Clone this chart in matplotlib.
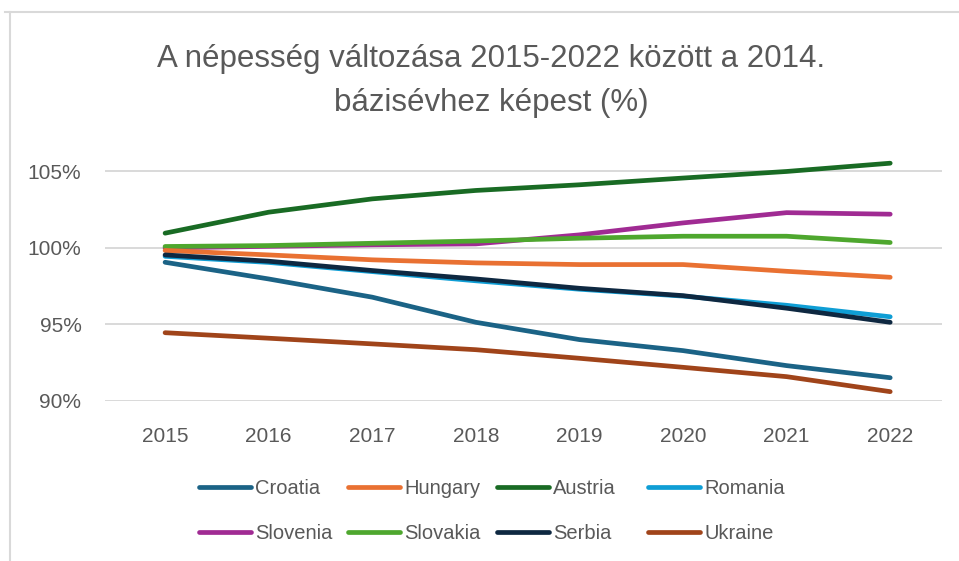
import matplotlib
matplotlib.use("Agg")
import matplotlib.pyplot as plt
from matplotlib.lines import Line2D
from matplotlib.ticker import FuncFormatter

years = [2015, 2016, 2017, 2018, 2019, 2020, 2021, 2022]
croatia  = [99.06, 97.97, 96.78, 95.14, 94.01, 93.29, 92.31, 91.52]
hungary  = [99.83, 99.54, 99.22, 99.02, 98.91, 98.91, 98.47, 98.08]
austria  = [100.96, 102.33, 103.20, 103.75, 104.12, 104.56, 104.99, 105.53]
romania  = [99.45, 99.05, 98.45, 97.85, 97.30, 96.85, 96.25, 95.50]
slovenia = [100.00, 100.10, 100.20, 100.26, 100.85, 101.63, 102.30, 102.20]
slovakia = [100.09, 100.15, 100.30, 100.45, 100.63, 100.76, 100.76, 100.35]
serbia   = [99.54, 99.13, 98.52, 97.97, 97.36, 96.88, 96.06, 95.14]
ukraine  = [94.46, 94.10, 93.73, 93.35, 92.79, 92.20, 91.59, 90.61]

names = ["Croatia", "Hungary", "Austria", "Romania", "Slovenia", "Slovakia", "Serbia", "Ukraine"]
series = [croatia, hungary, austria, romania, slovenia, slovakia, serbia, ukraine]
colors = ["#1B6386", "#E97132", "#196B24", "#0F9ED5", "#A02B93", "#4EA72E", "#0E2841", "#A0441A"]
yticks = [90, 95, 100, 105]

title = "A népesség változása 2015-2022 között a 2014.\nbázisévhez képest (%)"

W, H = 959, 561
fig = plt.figure(figsize=(W / 100, H / 100), dpi=100)
fig.patch.set_facecolor("white")

ax = fig.add_axes([105 / W, 1 - 401 / H, (942 - 105) / W, (401 - 156) / H])
ax.set_facecolor("white")

order = [2, 4, 5, 1, 3, 6, 0, 7]
for k, i in enumerate(order):
    ax.plot(years, series[i], color=colors[i], lw=3.4, solid_capstyle="round",
            solid_joinstyle="round", zorder=3 + k * 0.01)

ax.set_xlim(2014.42, 2022.5)
ax.set_ylim(90, 106)
ax.set_yticks(yticks)
ax.set_xticks(years)
ax.yaxis.set_major_formatter(FuncFormatter(lambda v, p: f"{v:.0f}%"))
ax.grid(axis="y", color="#D9D9D9", lw=1.4, zorder=0)
ax.set_axisbelow(True)
for s in ax.spines.values():
    s.set_visible(False)
ax.tick_params(axis="both", length=0, labelsize=15, labelcolor="#595959")
ax.tick_params(axis="x", pad=19)
ax.tick_params(axis="y", pad=17)
for lab in ax.get_xticklabels() + ax.get_yticklabels():
    lab.set_family(["Liberation Sans", "DejaVu Sans"])

fig.text(491 / W, 1 - 81 / H, title, ha="center", va="center", fontsize=22.5,
         color="#595959", family=["Liberation Sans", "DejaVu Sans"],
         linespacing=1.63)

# legend: 4 uniform columns, 2 rows (row-major order like the reference)
col_x = [199, 348, 497, 648]
for c in range(4):
    idx = [c, c + 4]
    hs = [Line2D([0], [0], color=colors[i], lw=3.4, solid_capstyle="round") for i in idx]
    lg = fig.legend(hs, [names[i] for i in idx], loc="center left",
                    bbox_to_anchor=(col_x[c] / W, 1 - 511 / H), ncol=1,
                    frameon=False, handlelength=2.6, handletextpad=0.2,
                    labelspacing=1.25, borderpad=0, borderaxespad=0,
                    prop={"family": ["Liberation Sans", "DejaVu Sans"], "size": 14.5})
    for t in lg.get_texts():
        t.set_color("#595959")

# chart border (top and left visible)
fig.add_artist(Line2D([5 / W, 1], [1 - 12 / H, 1 - 12 / H], color="#D9D9D9", lw=1.5,
                      transform=fig.transFigure))
fig.add_artist(Line2D([10 / W, 10 / W], [1 - 12 / H, 0], color="#D9D9D9", lw=1.5,
                      transform=fig.transFigure))

fig.savefig("out.png", dpi=100, facecolor="white")
